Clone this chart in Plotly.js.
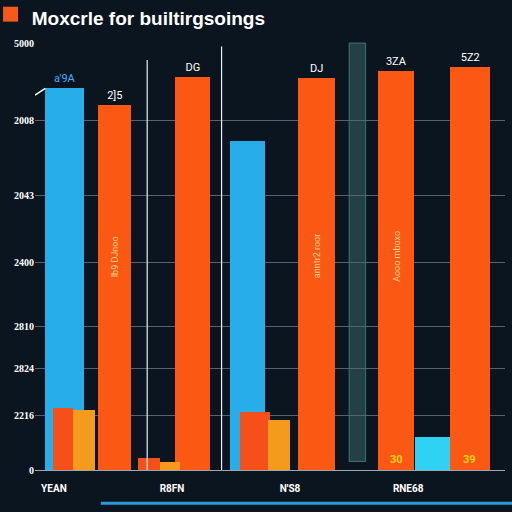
<!DOCTYPE html>
<html><head><meta charset="utf-8">
<script src="https://cdn.plot.ly/plotly-3.0.1.min.js"></script>
<style>html,body{margin:0;padding:0;background:#0b1520;}#chart{width:512px;height:512px;}</style>
</head><body><div id="chart"></div>
<script>
// ---- data ----
const categories = ["YEAN", "R8FN", "N'S8", "RNE68"];
const catIndex = [0, 1, 2, 3];
const blueVals   = [4470, null, 3850, null];
const tallVals   = [4270, 4600, 4590, 4670];
const smallVals  = [730, 140, 680, null];
const amberVals  = [700, 95, 585, null];
const cyanVals   = [null, null, null, 390];
const tall2Vals  = [null, null, null, 4720];
const blueText   = ["a'9A", "", "", ""];
const tallText   = ["2]5", "DG", "DJ", "3ZA"];
const tall2Text  = ["", "", "", "5Z2"];
const insideText = ["Ib9 DJnoo", "", "anntr2 roor", "Aooo mboxo"];
const yTickVals  = [0, 644, 1194, 1675, 2424, 3220, 4087, 5000];
const yTickText  = ["0", "2216", "2824", "2810", "2400", "2043", "2008", "5000"];
const trendX     = [-0.16, -0.073];
const trendY     = [4390, 4470];

// ---- style ----
const cBlue = "#27aeea", cTall = "#fb5814", cSmall = "#f6501a", cAmber = "#f49a1c", cCyan = "#2fd2f2";
const font = "Liberation Sans Narrow, Roboto, sans-serif";

function barTrace(y, color, offset, width, text, tpos, tcolor){
  return {type:"bar", x:catIndex, y:y, offset:offset, width:width,
    marker:{color:color, line:{width:0}}, text:text, textposition:tpos||"none",
    textfont:{color:tcolor||"#ffffff", size:11, family:font}, cliponaxis:false,
    hoverinfo:"skip", showlegend:false};
}

const traces = [
  barTrace(blueVals, cBlue, [-0.073,0,-0.506,0], [0.33,0,0.296,0], blueText, "outside", "#4aa8ff"),
  barTrace(tallVals, cTall, [0.376,0.028,0.069,-0.253], [0.28,0.296,0.313,0.305], tallText, "outside"),
  barTrace(tall2Vals, cTall, [0,0,0,0.356], [0,0,0,0.339], tall2Text, "outside"),
  barTrace(cyanVals, cCyan, [0,0,0,0.06], [0,0,0,0.296]),
  barTrace(smallVals, cSmall, [-0.005,-0.285,-0.422,0], [0.17,0.186,0.254,0]),
  barTrace(amberVals, cAmber, [0.164,-0.099,-0.185,0], [0.186,0.17,0.186,0]),
  {type:"scatter", mode:"lines", x:trendX, y:trendY, line:{color:"#ffffff", width:1.5},
   hoverinfo:"skip", showlegend:false}
];

const insideOffsets = [0.516, 0, 0.225, -0.1];
const annotations = [];
insideText.forEach((t,i)=>{
  if(!t) return;
  annotations.push({x:catIndex[i]+insideOffsets[i], y:2500, xref:"x", yref:"y", text:t,
    textangle:-90, showarrow:false, font:{color:"#ffd08a", size:9, family:font}});
});
annotations.push({x:catIndex[3]-0.1, y:120, xref:"x", yref:"y", text:"<b>30</b>", showarrow:false,
  font:{color:"#ffd21a", size:11, family:font}});
annotations.push({x:catIndex[3]+0.52, y:120, xref:"x", yref:"y", text:"<b>39</b>", showarrow:false,
  font:{color:"#ffd21a", size:11, family:font}});

const layout = {
  width:512, height:512, autosize:false,
  paper_bgcolor:"#0b1520", plot_bgcolor:"#0b1520",
  margin:{l:35, r:7, t:43, b:42},
  barmode:"overlay", bargap:0,
  title:{text:"<b>Moxcrle for builtirgsoings</b>", x:0.062, xanchor:"left", y:0.965, yanchor:"middle",
    font:{color:"#ffffff", size:19, family:"Liberation Sans, Arial, sans-serif"}},
  xaxis:{type:"linear", range:[-0.16, 3.82], tickvals:catIndex, ticktext:categories.map(c=>"<b>"+c+"</b>"),
    tickfont:{color:"#ffffff", size:10, family:font}, showgrid:false, zeroline:false,
    showline:true, linecolor:"#9aa7b4", linewidth:1, ticks:"outside", ticklen:9, tickcolor:"rgba(0,0,0,0)", fixedrange:true},
  yaxis:{range:[0,5000], tickvals:yTickVals, ticktext:yTickText.map(t=>"<b>"+t+"</b>"),
    tickfont:{color:"#ffffff", size:10, family:"Liberation Serif, serif"},
    showgrid:true, gridcolor:"#56626e", gridwidth:1, zeroline:false, ticks:"", fixedrange:true},
  shapes:[
    {type:"rect", xref:"paper", yref:"paper", x0:-0.068, x1:-0.036, y0:1.05, y1:1.085,
     fillcolor:"#f45a1a", line:{width:0}},
    {type:"rect", xref:"x", yref:"paper", x0:2.5, x1:2.64, y0:0.02, y1:1,
     fillcolor:"rgba(60,120,120,0.45)", line:{color:"rgba(110,180,180,0.5)", width:1}, layer:"below"},
    {type:"line", xref:"x", yref:"y", x0:0.79, x1:0.79, y0:0, y1:4800,
     line:{color:"#e8eef2", width:1.2}},
    {type:"line", xref:"x", yref:"y", x0:1.42, x1:1.42, y0:0, y1:4960,
     line:{color:"#e8eef2", width:1.2}},
    {type:"line", xref:"paper", yref:"paper", x0:0.14, x1:1.02, y0:-0.078, y1:-0.078,
     line:{color:"#2a9ad8", width:3}}
  ],
  annotations:annotations
};

Plotly.newPlot("chart", traces, layout, {staticPlot:true});
</script></body></html>
